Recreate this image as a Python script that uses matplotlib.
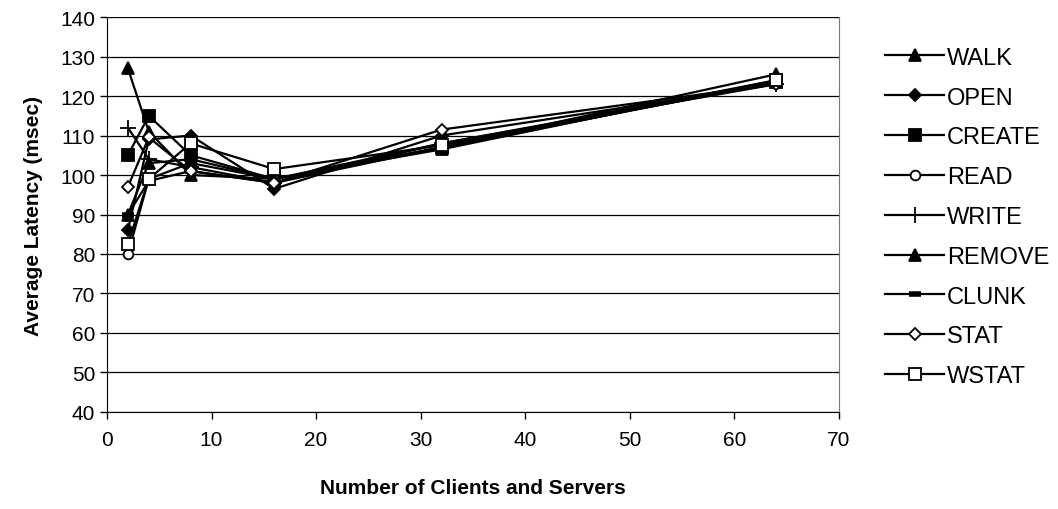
import matplotlib.pyplot as plt

plt.rcParams['font.family'] = ['Liberation Sans', 'DejaVu Sans']

nodes = [2, 4, 8, 16, 32, 64]

walk = [127, 111, 100, 99, 107, 125.5]
open_ = [86, 109, 110, 96.5, 110, 123]
create = [105, 115, 105, 99, 107, 123.5]
read = [80, 99, 103, 99, 108, 123.5]
write = [112, 104, 102, 98, 108, 123]
remove = [90, 103, 104, 99, 106.5, 124]
clunk = [90, 98.5, 101, 98, 107, 123.5]
stat = [97, 109.5, 101, 98, 111.5, 123]
wstat = [82.5, 99, 108, 101.5, 107.5, 124]

names = ['WALK', 'OPEN', 'CREATE', 'READ', 'WRITE', 'REMOVE', 'CLUNK', 'STAT', 'WSTAT']
series = [walk, open_, create, read, write, remove, clunk, stat, wstat]
# marker, size, face colour, edge width
styles = [
    ('^', 9, 'black', 1.3),
    ('D', 6, 'black', 1.3),
    ('s', 8, 'black', 1.3),
    ('o', 7, 'white', 1.3),
    ('+', 11, 'black', 1.3),
    ('^', 9, 'black', 1.3),
    ('_', 9, 'black', 4.0),
    ('D', 6, 'white', 1.3),
    ('s', 8, 'white', 1.3),
]

fig = plt.figure(figsize=(10.58, 5.10), dpi=100)
ax = fig.add_axes([0.1011, 0.1902, 0.6919, 0.7745])

for name, ys, (m, ms, fc, mew) in zip(names, series, styles):
    ax.plot(nodes, ys, color='black', lw=1.6, marker=m, markersize=ms,
            markerfacecolor=fc, markeredgecolor='black', markeredgewidth=mew,
            label=name)

ax.set_xlim(0, 70)
ax.set_ylim(40, 140)
ax.set_xticks(range(0, 71, 10))
ax.set_yticks(range(40, 141, 10))
ax.yaxis.grid(True, color='black', lw=0.9)
ax.set_axisbelow(True)
ax.spines['top'].set_visible(False)
ax.spines['right'].set_color('#777777')
ax.tick_params(labelsize=15, length=5, width=1)
ax.tick_params(axis='x', pad=8)

ax.set_xlabel('Number of Clients and Servers', fontsize=15, fontweight='bold', labelpad=21)
ax.set_ylabel('Average Latency (msec)', fontsize=15, fontweight='bold', labelpad=12)

fig.legend(loc='upper left', bbox_to_anchor=(0.828, 0.925), frameon=False,
           fontsize=17, handlelength=2.5, handletextpad=0.1, labelspacing=0.755,
           borderaxespad=0)

plt.savefig('out.png', dpi=100)
